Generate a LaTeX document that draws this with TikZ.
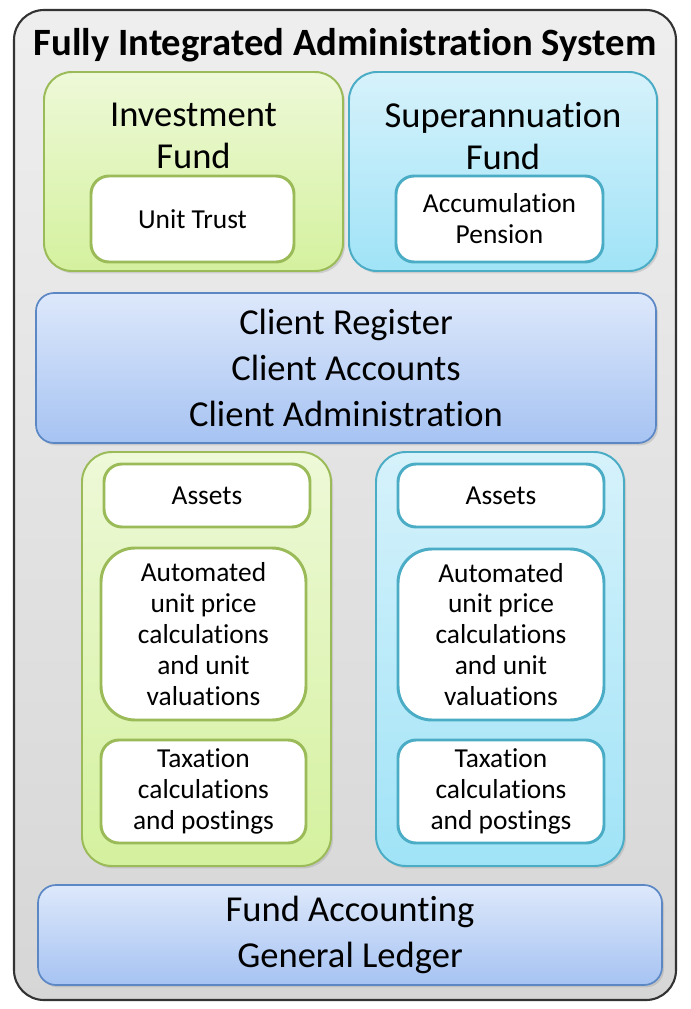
\documentclass[tikz,border=0pt]{standalone}
\usepackage{fontspec}
\setmainfont{Carlito}[Ligatures=NoCommon]
\usepackage{xcolor}
\usepackage{tikz}
\usetikzlibrary{shapes,positioning,calc,shadows}

\definecolor{grnline}{HTML}{9BBB59}
\definecolor{grntop}{HTML}{EEF9D8}
\definecolor{grnbot}{HTML}{D4F19E}
\definecolor{cyanline}{HTML}{4BACC6}
\definecolor{cyantop}{HTML}{D6F2FB}
\definecolor{cyanbot}{HTML}{A0E3F7}
\definecolor{blueline}{HTML}{5B87C5}
\definecolor{bluetop}{HTML}{DDE8FB}
\definecolor{bluebot}{HTML}{A6C3F2}

\begin{document}
\begin{tikzpicture}[
    frame/.style={rectangle, draw=black!80, line width=1.5pt, rounded corners=0.75cm, top color=gray!13, bottom color=gray!32, inner sep=0pt},
    greenfund/.style={rectangle, draw=grnline, line width=1.4pt, rounded corners=0.7cm, top color=grntop, bottom color=grnbot, inner sep=0pt, drop shadow={opacity=0.25, shadow xshift=0.05cm, shadow yshift=-0.06cm}},
    cyanfund/.style={rectangle, draw=cyanline, line width=1.4pt, rounded corners=0.7cm, top color=cyantop, bottom color=cyanbot, inner sep=0pt, drop shadow={opacity=0.25, shadow xshift=0.05cm, shadow yshift=-0.06cm}},
    layer/.style={rectangle, draw=blueline, line width=1.2pt, rounded corners=0.45cm, top color=bluetop, bottom color=bluebot, inner sep=0pt, align=center, font=\fontsize{26}{32.5}\selectfont, drop shadow={opacity=0.25, shadow xshift=0.05cm, shadow yshift=-0.06cm}},
    item/.style={rectangle, fill=white, line width=2.1pt, rounded corners=0.45cm, inner sep=0pt, align=center, font=\fontsize{19.5}{22}\selectfont},
    heading/.style={align=center, font=\fontsize{26}{30}\selectfont}
]

\useasboundingbox (0,0) rectangle (17.25,-25.225);

% Outer frame
\node[frame, minimum width=16.55cm, minimum height=24.75cm] (system) at (8.625,-12.625) {};
\node[font=\fontsize{27.5}{32}\selectfont\bfseries] (title) at (8.625,-1.125) {Fully Integrated Administration System};

% Funds
\node[greenfund, minimum width=7.475cm, minimum height=4.975cm] (invest) at (4.8375,-4.2875) {};
\node[heading] (investlbl) at (4.8375,-3.4) {Investment\\Fund};
\node[item, draw=grnline, minimum width=5.075cm, minimum height=2.15cm] (unittrust) at (4.8125,-5.475) {Unit Trust};

\node[cyanfund, minimum width=7.7cm, minimum height=4.975cm] (super) at (12.575,-4.2875) {};
\node[heading] (superlbl) at (12.575,-3.4) {Superannuation\\Fund};
\node[item, draw=cyanline, minimum width=5.175cm, minimum height=2.15cm] (accum) at (12.4875,-5.475) {Accumulation\\Pension};

% Client layer
\node[layer, minimum width=15.5cm, minimum height=3.75cm] (client) at (8.65,-9.2) {Client Register\\Client Accounts\\Client Administration};

% Fund columns
\node[greenfund, rounded corners=0.75cm, minimum width=6.225cm, minimum height=10.35cm] (leftcol) at (5.1625,-16.475) {};
\node[item, draw=grnline, minimum width=5.15cm, minimum height=1.575cm] (lassets) at (5.175,-12.3875) {Assets};
\node[item, draw=grnline, rounded corners=0.85cm, minimum width=5.125cm, minimum height=4.3cm] (lunit) at (5.0875,-15.85) {Automated\\unit price\\calculations\\and unit\\valuations};
\node[item, draw=grnline, minimum width=5.125cm, minimum height=2.575cm] (ltax) at (5.0875,-19.7875) {Taxation\\calculations\\and postings};

\node[cyanfund, rounded corners=0.75cm, minimum width=6.2cm, minimum height=10.35cm] (rightcol) at (12.5,-16.475) {};
\node[item, draw=cyanline, minimum width=5.15cm, minimum height=1.575cm] (rassets) at (12.525,-12.3875) {Assets};
\node[item, draw=cyanline, rounded corners=0.85cm, minimum width=5.15cm, minimum height=4.275cm] (runit) at (12.525,-15.8625) {Automated\\unit price\\calculations\\and unit\\valuations};
\node[item, draw=cyanline, minimum width=5.15cm, minimum height=2.575cm] (rtax) at (12.525,-19.7875) {Taxation\\calculations\\and postings};

% Accounting layer
\node[layer, minimum width=15.6cm, minimum height=2.5cm] (ledger) at (8.75,-23.375) {Fund Accounting\\General Ledger};

\end{tikzpicture}
\end{document}
